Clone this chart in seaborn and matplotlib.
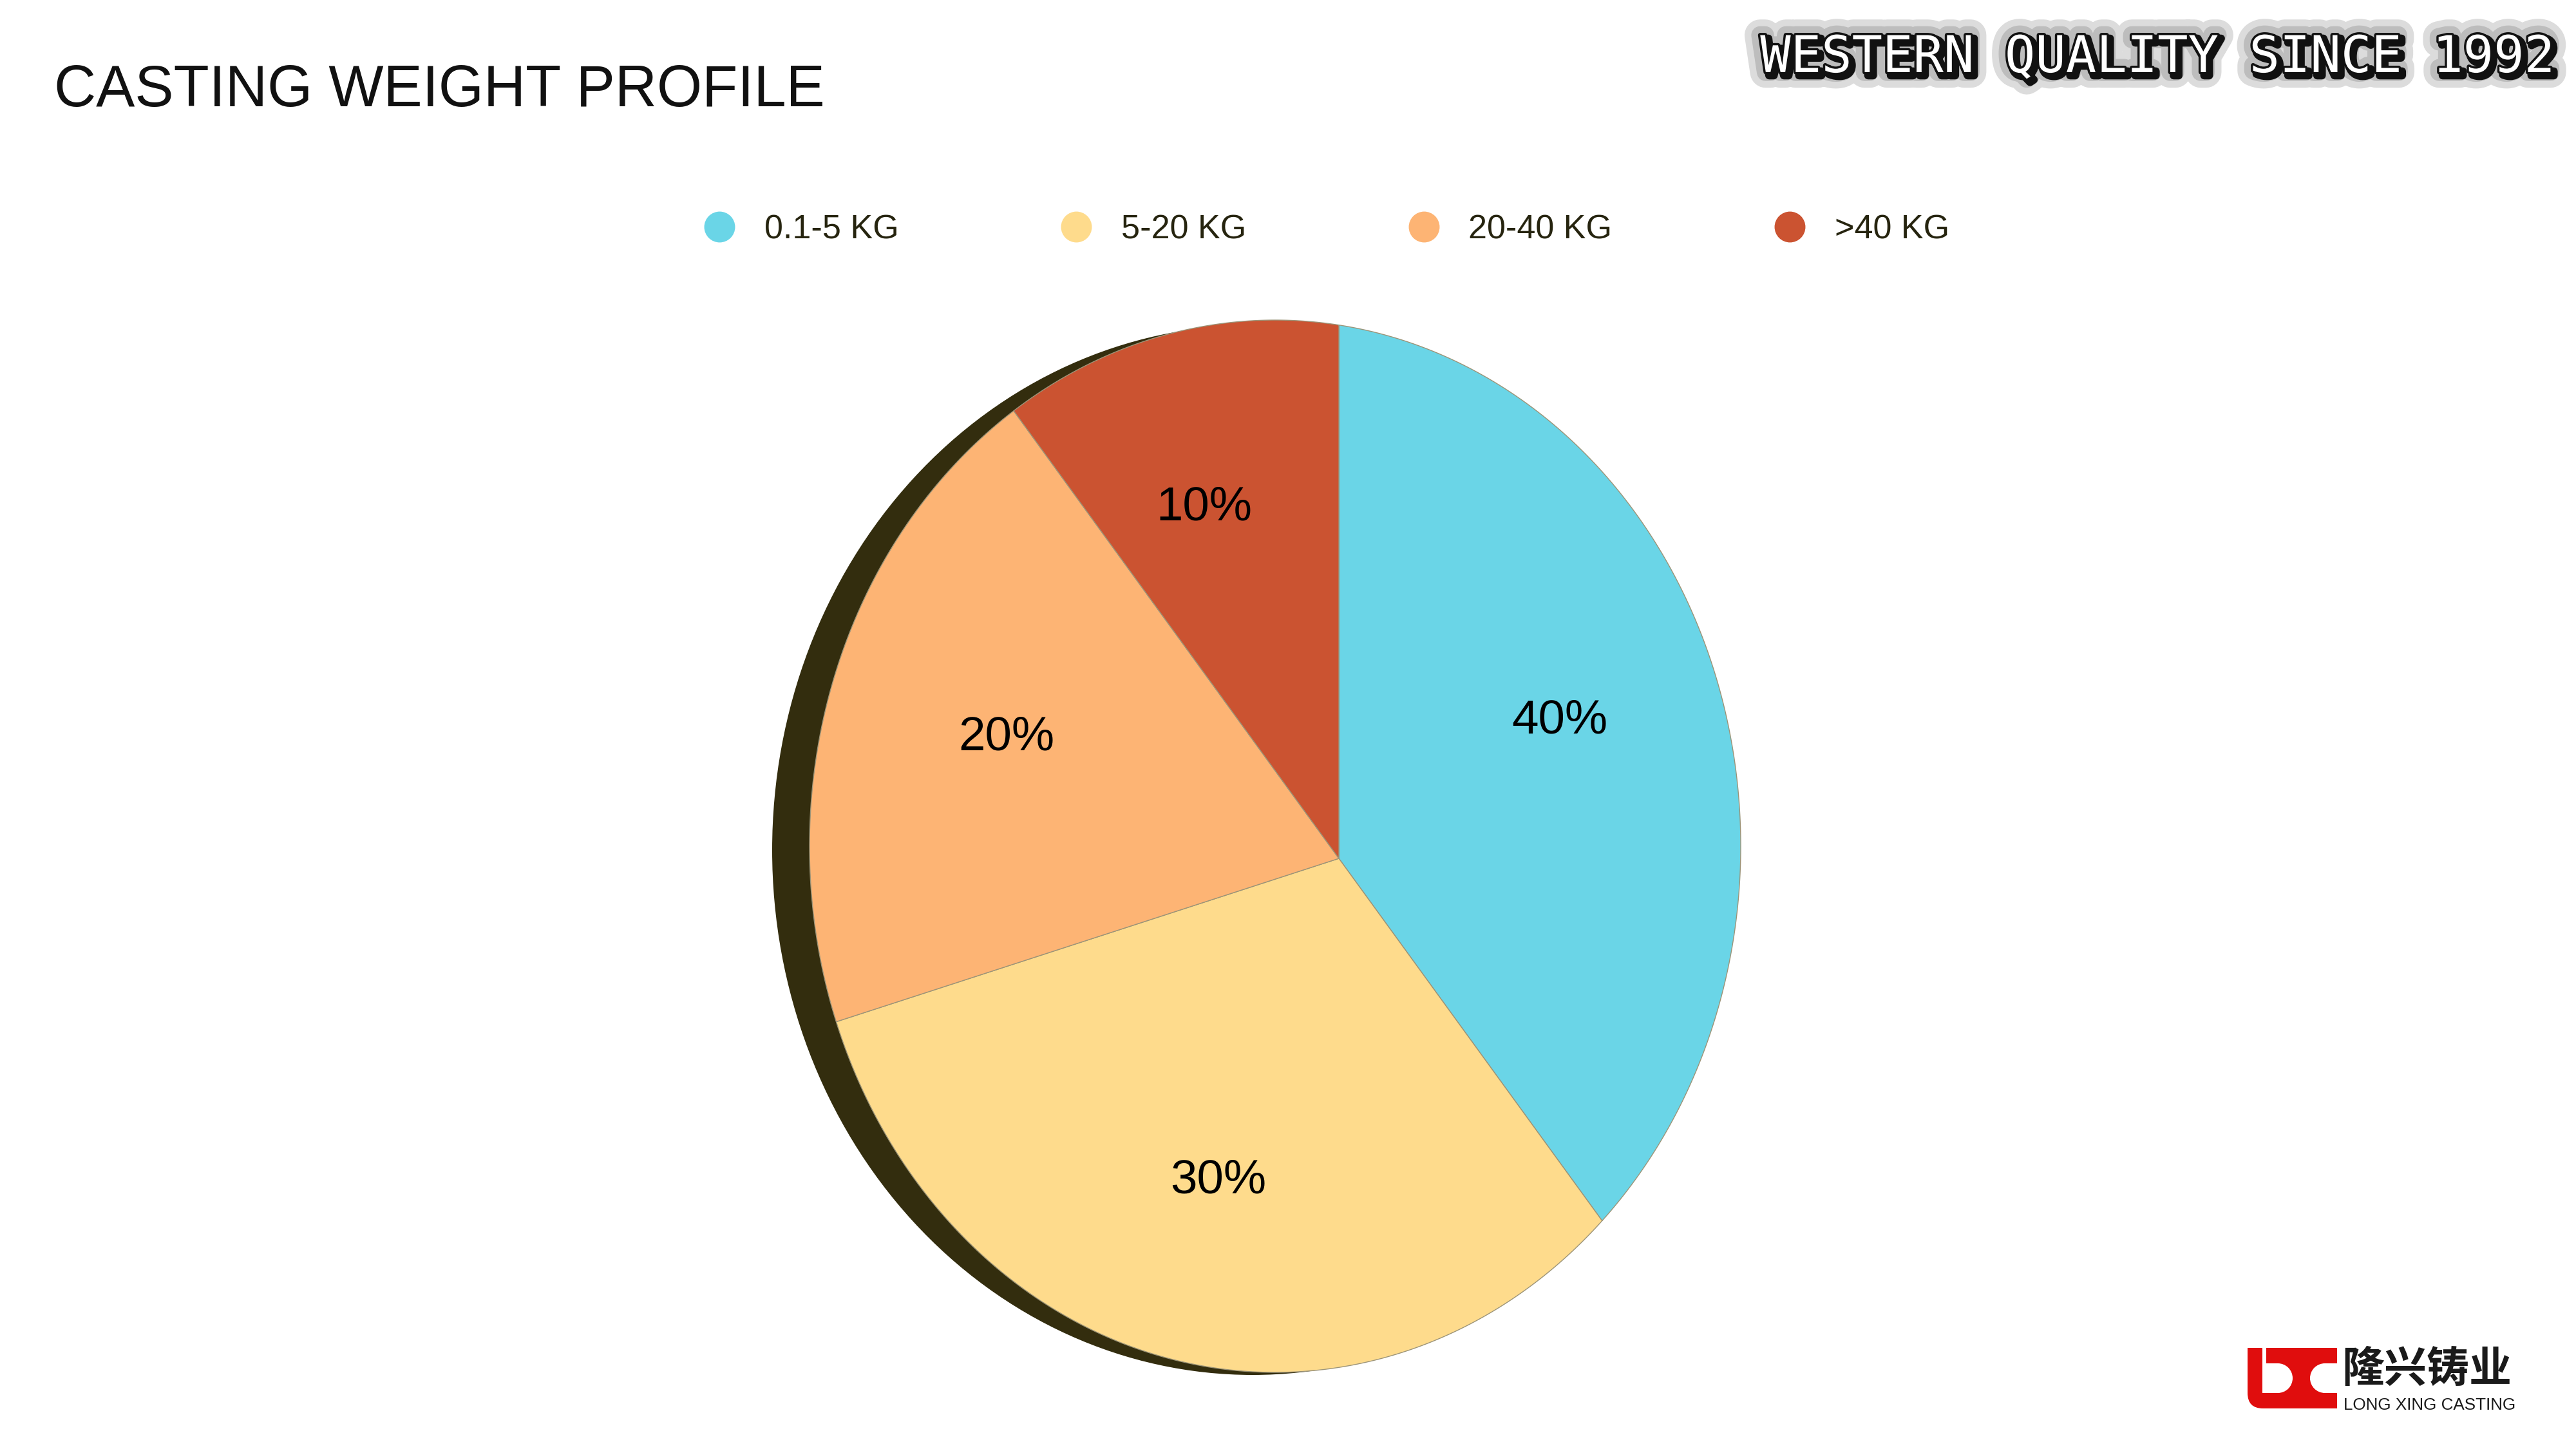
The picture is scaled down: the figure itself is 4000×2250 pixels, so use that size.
import numpy as np
import matplotlib
matplotlib.use("Agg")
import matplotlib.pyplot as plt
import seaborn as sns
from matplotlib.transforms import Transform
from matplotlib.path import Path
from matplotlib.lines import Line2D
from matplotlib.patches import Ellipse, Rectangle, Wedge, PathPatch
import matplotlib.patheffects as pe

# ---------------- data ----------------
categories = ["0.1-5 KG", "5-20 KG", "20-40 KG", ">40 KG"]
shares = [40, 30, 20, 10]
slice_colors = ["#6AD5E7", "#FEDB8C", "#FDB474", "#CB5331"]
title_text = "CASTING WEIGHT PROFILE"
tagline_text = "WESTERN QUALITY SINCE 1992"
brand_cn = "隆兴铸业"
brand_en = "LONG XING CASTING"

# ---------------- style ----------------
sns.set_theme(style="white")
plt.rcParams["font.family"] = ["Liberation Sans", "DejaVu Sans"]
palette = sns.color_palette(slice_colors)

W, H = 4000, 2250
fig = plt.figure(figsize=(16, 9), dpi=250, facecolor="white")
ax = fig.add_axes([0, 0, 1, 1])


class TiltedPie(Transform):
    """Maps a unit pie onto an ellipse whose apex is off-centre (tilted look)."""
    input_dims = 2
    output_dims = 2
    is_separable = False
    has_inverse = False

    def __init__(self, apex, center, rx, ry):
        super().__init__()
        self.apx, self.apy = apex
        self.cx, self.cy = center
        self.rx, self.ry = rx, ry

    def transform_non_affine(self, values):
        v = np.asarray(values, dtype=float)
        single = v.ndim == 1
        v = v.reshape(-1, 2)
        x, y = v[:, 0], v[:, 1]
        r = np.hypot(x, y)
        safe = np.where(r == 0, 1.0, r)
        dx = np.where(r == 0, 1.0, x / safe)
        dy = np.where(r == 0, 0.0, -y / safe)
        ux = (self.apx - self.cx) / self.rx
        uy = (self.apy - self.cy) / self.ry
        vx = dx / self.rx
        vy = dy / self.ry
        vv = vx * vx + vy * vy
        uv = ux * vx + uy * vy
        uu = ux * ux + uy * uy
        t = (-uv + np.sqrt(uv * uv - vv * (uu - 1.0))) / vv
        out = np.column_stack([self.apx + r * t * dx, self.apy + r * t * dy])
        return out[0] if single else out

    def transform_path_non_affine(self, path):
        verts, codes = [], []
        ts = np.linspace(0, 1, 49)[1:]
        for seg, code in path.iter_bezier():
            if code == Path.MOVETO:
                verts.append(seg.control_points[0])
                codes.append(Path.MOVETO)
            else:
                pts = seg(ts)
                verts.extend(pts)
                codes.extend([Path.LINETO] * len(pts))
        return Path(self.transform_non_affine(np.array(verts)), codes)


proj = TiltedPie(apex=(2079.0, 1333.0), center=(1980.0, 1314.0), rx=723.0, ry=817.0)

# shadow rim behind the pie (left side)
ax.add_patch(Ellipse((1945, 1320), width=2 * 746, height=2 * 815,
                     facecolor="#332D0E", edgecolor="none", zorder=0.5))

wedges, texts, autotexts = ax.pie(
    shares, colors=palette, startangle=90, counterclock=False,
    autopct=lambda p: f"{p:.0f}%", pctdistance=0.65,
    wedgeprops=dict(linewidth=0.4, edgecolor="#9c9478"),
    textprops=dict(fontsize=21.5, color="black"))

label_radius = [0.61, 0.65, 0.66, 0.68]
label_turn = [-14, 2.5, 2, -3]
for w, t, rr, dt in zip(wedges, autotexts, label_radius, label_turn):
    w.set_transform(proj + ax.transData)
    w.set_zorder(1)
    mid = np.deg2rad((w.theta1 + w.theta2) / 2 - dt)
    t.set_position((rr * np.cos(mid), rr * np.sin(mid)))
    t.set_transform(proj + ax.transData)
    t.set_zorder(3)

ax.set_xlim(0, W)
ax.set_ylim(H, 0)
ax.set_aspect("auto")
ax.axis("off")

# ---------------- title ----------------
ax.text(84, 165, title_text, fontsize=26, color="#111111",
        ha="left", va="baseline")

# ---------------- tagline ----------------
ax.text(3965, 112, tagline_text, fontsize=22.7, color="white",
        family=["DejaVu Sans Mono"], weight="normal", ha="right", va="baseline",
        path_effects=[pe.Stroke(linewidth=14, foreground="#dcdcdc"),
                      pe.Stroke(linewidth=8, foreground="#bdbdbd"),
                      pe.Stroke(linewidth=3.5, foreground="#111111", offset=(1.5, -1.5)),
                      pe.Stroke(linewidth=2, foreground="#111111"),
                      pe.Normal()])

# ---------------- legend ----------------
handles = [Line2D([], [], marker="o", linestyle="none", markersize=13.8,
                  markerfacecolor=w.get_facecolor(), markeredgecolor="none")
           for w in wedges]
fig.legend(handles, categories, loc="center", bbox_to_anchor=(2059 / W, 1 - 357 / H),
           ncol=4, frameon=False, fontsize=15, handlelength=1.0,
           handletextpad=0.83, columnspacing=4.8, labelcolor="#26240f")

# ---------------- brand logo ----------------
x0, y0, x1, y1, R = 3490, 2093, 3629, 2187, 24
logo_path = Path([(x0, y0), (x1, y0), (x1, y1), (x0 + R, y1), (x0, y1), (x0, y1 - R), (x0, y0)],
                 [Path.MOVETO, Path.LINETO, Path.LINETO, Path.LINETO, Path.CURVE3, Path.CURVE3,
                  Path.CLOSEPOLY])
ax.add_patch(PathPatch(logo_path, facecolor="#E00D0D", edgecolor="none", zorder=4))
hy0, hh = 2117, 46
hr = hh / 2
ax.add_patch(Rectangle((3513, hy0), 24, hh, facecolor="white", edgecolor="none", zorder=5))
ax.add_patch(Wedge((3537, hy0 + hr), hr, -90, 90, facecolor="white", edgecolor="none", zorder=5))
ax.add_patch(Rectangle((3513, y0 - 1), 6, hy0 - y0 + 2, facecolor="white", edgecolor="none", zorder=5))
ax.add_patch(Wedge((3610, hy0 + hr), hr, 90, 270, facecolor="white", edgecolor="none", zorder=5))
ax.add_patch(Rectangle((3610, hy0), 24, hh, facecolor="white", edgecolor="none", zorder=5))

ax.text(3636, 2126, brand_cn, fontsize=19, weight="bold", color="#1a1a1a",
        family=["Noto Sans CJK SC", "DejaVu Sans"], ha="left", va="center")
ax.text(3639, 2189, brand_en, fontsize=7.5, color="#1a1a1a",
        ha="left", va="baseline")

fig.savefig("out.png", dpi=250, facecolor="white")
